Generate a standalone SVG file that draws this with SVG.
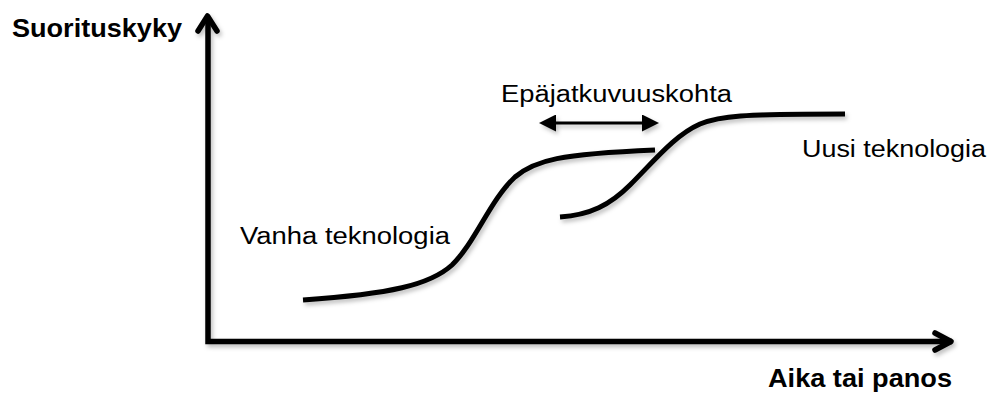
<svg xmlns="http://www.w3.org/2000/svg" width="990" height="394" viewBox="0 0 990 394">
  <defs>
    <filter id="shade" x="-10%" y="-10%" width="120%" height="130%">
      <feDropShadow dx="2" dy="3" stdDeviation="2" flood-color="#000" flood-opacity="0.25"/>
    </filter>
    <marker id="head" viewBox="0 0 17 17" refX="1" refY="8.5" markerWidth="17" markerHeight="17" markerUnits="userSpaceOnUse" orient="auto-start-reverse">
      <path d="M0,0 L17,8.5 L0,17 Z" fill="#000"/>
    </marker>
  </defs>
  <style>
    .axis { fill: none; stroke: #000; stroke-width: 5.5; stroke-linejoin: miter; }
    .chev { fill: none; stroke: #000; stroke-width: 5.5; stroke-linecap: round; stroke-linejoin: round; }
    .curve { fill: none; stroke: #000; stroke-width: 5; stroke-linecap: butt; }
    .span { fill: none; stroke: #000; stroke-width: 3; }
    .lbl { font-family: "Liberation Sans", Arial, sans-serif; font-size: 23.5px; fill: #000; }
    .ttl { font-family: "Liberation Sans", Arial, sans-serif; font-size: 25.5px; font-weight: bold; fill: #000; }
  </style>
  <rect width="990" height="394" fill="#fff"/>

  <!-- axes -->
  <g id="axes" filter="url(#shade)">
    <path class="axis" d="M208,17 V341.5 H952"/>
    <path class="chev" d="M198,31 L207.5,16 L217,31"/>
    <path class="chev" d="M935,333 L951,341.5 L935,350"/>
  </g>
  <text class="ttl" x="12" y="37" textLength="170" lengthAdjust="spacingAndGlyphs">Suorituskyky</text>
  <text class="ttl" x="768" y="387" textLength="184" lengthAdjust="spacingAndGlyphs">Aika tai panos</text>

  <!-- technology curves -->
  <g id="connectors" filter="url(#shade)">
    <path id="vanha-curve" class="curve" d="M303,300 C390,294 430,285 452,265 C475,243 490,200 515,177 C535,160 560,154 655,150"/>
    <path id="uusi-curve" class="curve" d="M560,217 C590,215 610,205 630,185 C655,160 675,135 700,124 C720,116 740,114 845,114"/>
    <path id="gap-arrow" class="span" d="M555,123 H643" marker-start="url(#head)" marker-end="url(#head)"/>
  </g>

  <g id="vanha">
    <text class="lbl" x="240" y="244" textLength="210" lengthAdjust="spacingAndGlyphs">Vanha teknologia</text>
  </g>
  <g id="uusi">
    <text class="lbl" x="802" y="157" textLength="184" lengthAdjust="spacingAndGlyphs">Uusi teknologia</text>
  </g>
  <g id="epajatkuvuus">
    <text class="lbl" x="501" y="102" textLength="231" lengthAdjust="spacingAndGlyphs">Epäjatkuvuuskohta</text>
  </g>
</svg>
